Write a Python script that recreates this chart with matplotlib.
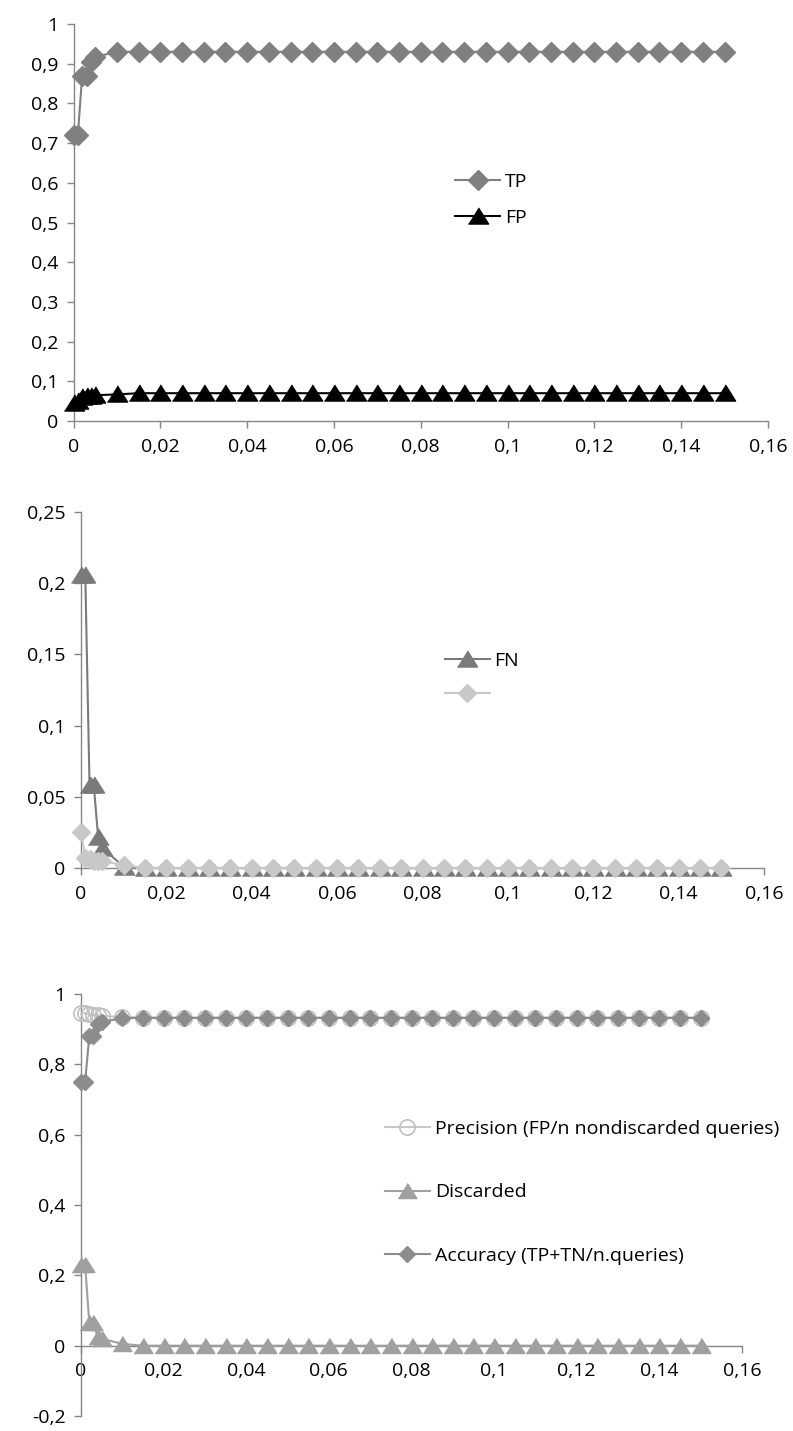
import numpy as np
import matplotlib
matplotlib.use('Agg')
import matplotlib.pyplot as plt
from matplotlib.ticker import FuncFormatter, MultipleLocator

plt.rcParams['font.family'] = ['Open Sans', 'DejaVu Sans']

# x values (threshold)
x_vals = [0, 0.001, 0.002, 0.003, 0.004, 0.005] + [round(0.01 + 0.005 * i, 3) for i in range(29)]

# panel 1
tp = [0.72, 0.72, 0.87, 0.87, 0.905, 0.917] + [0.93] * 29
fp = [0.045, 0.05, 0.06, 0.062, 0.064, 0.065, 0.067] + [0.07] * 28

# panel 2
fn = [0.206, 0.206, 0.058, 0.058, 0.022, 0.014, 0.001] + [0.0] * 28
other = [0.025, 0.007, 0.006, 0.005, 0.005, 0.005, 0.002] + [0.0] * 28

# panel 3
precision = [0.945, 0.945, 0.942, 0.94, 0.94, 0.938, 0.934] + [0.933] * 28
discarded = [0.23, 0.23, 0.065, 0.065, 0.025, 0.02, 0.005] + [0.0] * 28
accuracy = [0.75, 0.75, 0.88, 0.88, 0.915, 0.92, 0.932] + [0.932] * 28

W, H = 793, 1431
AXCOL = '#868686'
FS = 14
fig = plt.figure(figsize=(W / 100., H / 100.), dpi=100)

def make_ax(left, right, top, bottom):
    ax = fig.add_axes([left / W, 1 - bottom / H, (right - left) / W, (bottom - top) / H])
    for s in ['top', 'right']:
        ax.spines[s].set_visible(False)
    for s in ['left', 'bottom']:
        ax.spines[s].set_color(AXCOL)
        ax.spines[s].set_linewidth(1.0)
    ax.tick_params(colors=AXCOL, labelcolor='black', labelsize=FS, length=5, width=1.0)
    ax.tick_params(axis='x', pad=7)
    ax.tick_params(axis='y', pad=6)
    fmt = FuncFormatter(lambda v, p: ('%g' % round(v, 4)).replace('.', ','))
    ax.xaxis.set_major_formatter(fmt)
    ax.yaxis.set_major_formatter(fmt)
    ax.set_xlim(0, 0.16)
    ax.xaxis.set_major_locator(MultipleLocator(0.02))
    return ax

tri = [(-1, -0.75), (1, -0.75), (0, 0.85)]

def leg(ax, handles, labels, x, y, spacing):
    ax.legend(handles, labels, loc='center left', bbox_to_anchor=(x, y), frameon=False,
              fontsize=FS, handlelength=2.3, handletextpad=0.25, labelspacing=spacing,
              borderpad=0, borderaxespad=0)

# Panel 1
ax1 = make_ax(73.5, 768, 24, 421)
ax1.set_ylim(0, 1)
ax1.yaxis.set_major_locator(MultipleLocator(0.1))
h1, = ax1.plot(x_vals, tp, color='#808080', lw=1.5, marker='D', ms=10, clip_on=False, zorder=3)
h2, = ax1.plot(x_vals, fp, color='black', lw=1.5, marker=tri, ms=14.5, clip_on=False, zorder=3)
leg(ax1, [h1, h2], ['TP', 'FP'], 0.55, 0.557, 0.9)

# Panel 2
ax2 = make_ax(81, 764, 512, 868)
ax2.set_ylim(0, 0.25)
ax2.yaxis.set_major_locator(MultipleLocator(0.05))
h3, = ax2.plot(x_vals, fn, color='#7a7a7a', lw=1.5, marker=tri, ms=14.5, clip_on=False, zorder=3)
h4, = ax2.plot(x_vals, other, color='#c8c8c8', lw=1.5, marker='D', ms=9, clip_on=False, zorder=4)
leg(ax2, [h3, h4], ['FN', ''], 0.533, 0.534, 0.85)

# Panel 3
ax3 = make_ax(81, 742, 994, 1416)
ax3.set_ylim(-0.2, 1)
ax3.yaxis.set_major_locator(MultipleLocator(0.2))
ax3.spines['bottom'].set_position(('data', 0))
h5, = ax3.plot(x_vals, precision, color='#c8c8c8', lw=1.5, marker='o', ms=11, mfc='none',
               mec='#c0c0c0', mew=1.2, clip_on=False, zorder=3)
h6, = ax3.plot(x_vals, discarded, color='#a0a0a0', lw=1.5, marker=tri, ms=13.5, clip_on=False, zorder=4)
h7, = ax3.plot(x_vals, accuracy, color='#8c8c8c', lw=1.5, marker='D', ms=8.5, clip_on=False, zorder=5)
leg(ax3, [h5, h6, h7], ['Precision (FP/n nondiscarded queries)', 'Discarded', 'Accuracy (TP+TN/n.queries)'],
    0.46, 0.53, 2.35)

plt.savefig('out.png', dpi=100)
plt.close()
